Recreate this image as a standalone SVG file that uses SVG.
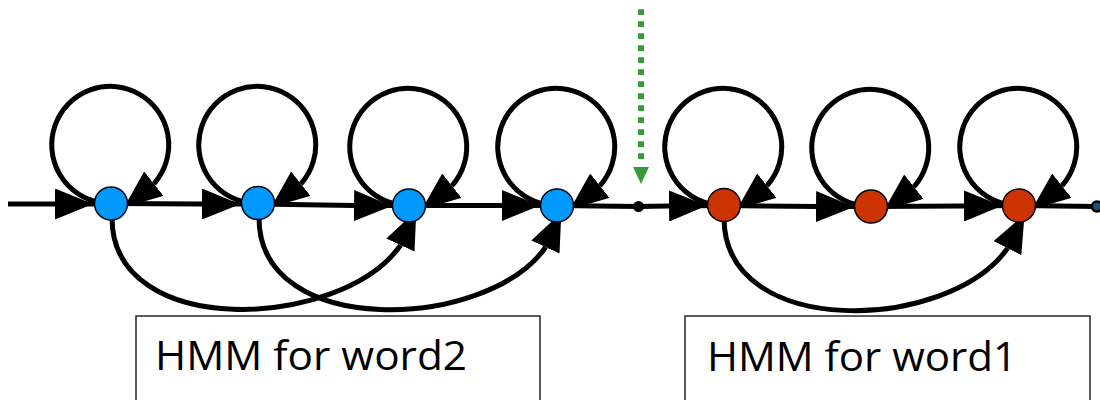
<svg xmlns="http://www.w3.org/2000/svg" width="1100" height="400" viewBox="0 0 1100 400">
<style>
.c{fill:none;stroke:#000;stroke-width:5}
.a{marker-end:url(#ah)}
.b{fill:#0099ff;stroke:#000;stroke-width:1.5}
.r{fill:#cc3300;stroke:#000;stroke-width:1.5}
.box{fill:#fff;stroke:#262626;stroke-width:1.5}
.t{font-family:"Open Sans","Liberation Sans",sans-serif;font-size:40px;fill:#000}
</style>
<defs>
<marker id="ah" markerUnits="userSpaceOnUse" markerWidth="38" markerHeight="31" viewBox="0 0 38 31" refX="0" refY="15.5" orient="auto"><path d="M0,0 L38,15.5 L0,31 z" fill="#000"/></marker>
</defs>
<g id="connectors">
<!-- main line -->
<path class="c a" d="M8,204 L55,204"/>
<path class="c" d="M55,204 L111,204"/>
<path class="c a" d="M111,203.5 L202,204"/>
<path class="c" d="M202,204 L258,204"/>
<path class="c a" d="M258,204 L354,205.5"/>
<path class="c" d="M354,205.5 L409,205.5"/>
<path class="c a" d="M409,205.5 L502,205.5"/>
<path class="c" d="M502,205.5 L557,205.5"/>
<path class="c" d="M557,205.5 L638,206.5"/>
<path class="c a" d="M638,206.5 L669,206"/>
<path class="c" d="M669,206 L724,205.5"/>
<path class="c a" d="M724,205.5 L816,206.5"/>
<path class="c" d="M816,206.5 L871,206.5"/>
<path class="c a" d="M871,206.5 L964,206"/>
<path class="c" d="M964,206 L1019,205.5"/>
<path class="c" d="M1019,205.5 L1097,206.5"/>
<!-- self loops -->
<path class="c a" d="M100.8,202.6 A58.5,58.5 0 1 1 154.6,183 l-0.78,0.62"/>
<path class="c a" d="M247.8,202.6 A58.5,58.5 0 1 1 301.6,183 l-0.78,0.62"/>
<path class="c a" d="M398.8,204.6 A58.5,58.5 0 1 1 452.6,185 l-0.78,0.62"/>
<path class="c a" d="M546.8,204.6 A58.5,58.5 0 1 1 600.6,185 l-0.78,0.62"/>
<path class="c a" d="M713.8,204.6 A58.5,58.5 0 1 1 767.6,185 l-0.78,0.62"/>
<path class="c a" d="M860.8,205.6 A58.5,58.5 0 1 1 914.6,186 l-0.78,0.62"/>
<path class="c a" d="M1008.8,204.6 A58.5,58.5 0 1 1 1062.6,185 l-0.78,0.62"/>
<!-- skip arcs -->
<path class="c a" d="M112,218 C112,340 340,330 400,246 l0.42,-0.91"/>
<path class="c a" d="M259,218 C259,340 487,330 545,248 l0.42,-0.91"/>
<path class="c a" d="M724,218 C724,340 948,332 1007,249 l0.45,-0.89"/>
<!-- green dotted arrow -->
<path d="M641,9.3 L641,159" fill="none" stroke="#3a9a3a" stroke-width="6" stroke-dasharray="5.7 6.3"/>
<path d="M633,167 L649,167 L641,184 z" fill="#3a9a3a"/>
</g>
<g id="n1"><circle class="b" cx="111" cy="203.5" r="16.5"/></g>
<g id="n2"><circle class="b" cx="258" cy="203" r="16.5"/></g>
<g id="n3"><circle class="b" cx="409" cy="205.5" r="16.5"/></g>
<g id="n4"><circle class="b" cx="557" cy="205.5" r="16.5"/></g>
<g id="junction"><circle cx="638.5" cy="206.5" r="5.5" fill="#000"/></g>
<g id="m1"><circle class="r" cx="724" cy="205" r="16.5"/></g>
<g id="m2"><circle class="r" cx="871" cy="206.5" r="16.5"/></g>
<g id="m3"><circle class="r" cx="1019" cy="205.5" r="16.5"/></g>
<g id="end"><circle cx="1097" cy="206.5" r="5" fill="#1f4e79" stroke="#000" stroke-width="2.5"/></g>
<g id="label2"><rect class="box" x="136" y="316" width="404" height="100"/><text class="t" x="155" y="370" textLength="312" lengthAdjust="spacingAndGlyphs">HMM for word2</text></g>
<g id="label1"><rect class="box" x="685" y="316" width="405" height="100"/><text class="t" x="707" y="370.5" textLength="310" lengthAdjust="spacingAndGlyphs">HMM for word1</text></g>
</svg>
